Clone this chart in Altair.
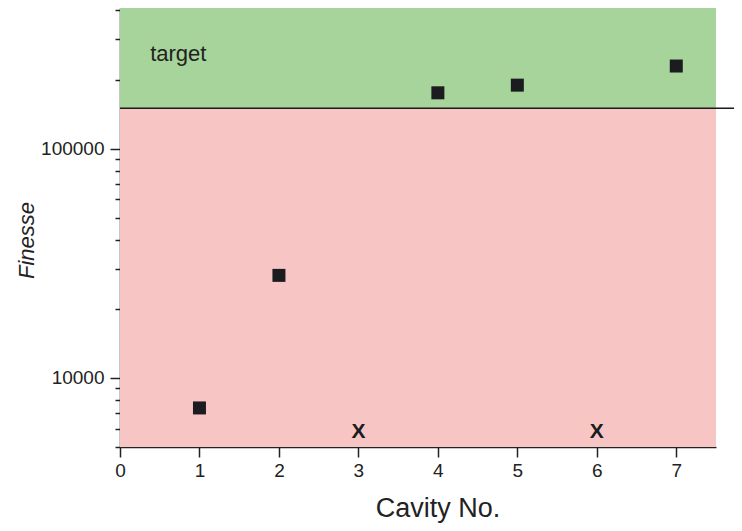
import altair as alt
import pandas as pd

# ---- data ----
cavity_no = [1, 2, 4, 5, 7]
finesse = [7400, 28000, 175000, 189000, 229000]
failed_cavity_no = [3, 6]
failed_marker_finesse = [5800, 5800]
target_finesse = 150000
y_domain = [5000, 410000]
x_domain = [0, 7.5]
y_tick_values = [5000, 6000, 7000, 8000, 9000,
                 10000, 20000, 30000, 40000, 50000, 60000, 70000, 80000, 90000,
                 100000, 200000, 300000, 400000]
y_label_values = [10000, 100000]
x_tick_values = [0, 0.5, 1, 1.5, 2, 2.5, 3, 3.5, 4, 4.5, 5, 5.5, 6, 6.5, 7, 7.5]
band_names = ["below", "target"]
band_colors = ["#f8c5c5", "#a6d49b"]
annotation_text = ["target"]
annotation_x = [0.38]
annotation_y = [240000]

FONT = "Liberation Sans"
INK = "#222222"

bands = pd.DataFrame({
    "band": band_names,
    "lo": [y_domain[0], target_finesse],
    "hi": [target_finesse, y_domain[1]],
    "x0": [x_domain[0]] * 2,
    "x1": [x_domain[1]] * 2,
})
points = pd.DataFrame({"cavity": cavity_no, "finesse": finesse})
failed = pd.DataFrame({"cavity": failed_cavity_no, "finesse": failed_marker_finesse})
notes = pd.DataFrame({"text": annotation_text, "x": annotation_x, "y": annotation_y})

xscale = alt.Scale(domain=x_domain, nice=False, zero=False)
yscale = alt.Scale(type="log", domain=y_domain, nice=False)

major_y = " || ".join(f"datum.value == {v}" for v in y_label_values)

x_axis = alt.Axis(
    values=x_tick_values,
    labelExpr="datum.value % 1 == 0 ? datum.label : ''",
    format="d",
    tickSize={"condition": {"test": "datum.value % 1 == 0", "value": 10}, "value": 5},
    tickWidth=1.5, tickColor=INK, domainColor=INK, domainWidth=1.5,
    labelFont=FONT, labelFontSize=19, labelColor=INK, labelPadding=4,
    labelFlush=False, labelOverlap=False,
    grid=False,
    title="Cavity No.", titleFont=FONT, titleFontSize=27, titleFontWeight="normal",
    titleColor=INK, titleX=317.5, titleY=69, titleBaseline="alphabetic",
    titleAlign="center",
)
y_axis = alt.Axis(
    values=y_tick_values,
    labelExpr=f"({major_y}) ? datum.label : ''",
    format="d",
    tickSize={"condition": {"test": major_y, "value": 10}, "value": 5},
    tickWidth=1.5, tickColor=INK, domainColor=INK, domainWidth=1.5,
    labelFont=FONT, labelFontSize=19, labelColor=INK, labelPadding=6,
    labelFlush=False, labelOverlap=False,
    grid=False,
    title="Finesse", titleFont=FONT, titleFontSize=22, titleFontWeight="normal",
    titleFontStyle="italic", titleColor=INK, titleX=-87, titleY=232,
    titleBaseline="alphabetic", titleAlign="center", titleAngle=270,
)

band_layer = alt.Chart(bands).mark_rect(stroke=None).encode(
    x=alt.X("x0:Q", scale=xscale, axis=x_axis),
    x2="x1:Q",
    y=alt.Y("lo:Q", scale=yscale, axis=y_axis),
    y2="hi:Q",
    color=alt.Color("band:N", scale=alt.Scale(domain=band_names, range=band_colors), legend=None),
)

threshold = alt.Chart(pd.DataFrame({"t": [target_finesse]})).mark_rule(
    clip=False, color="#1a1a1a", strokeWidth=1.5
).encode(
    y=alt.Y("t:Q", scale=yscale),
    x=alt.value(0),
    x2=alt.value(622),
)

square_layer = alt.Chart(points).mark_square(
    size=169, color="#1b1b20", opacity=1, filled=True
).encode(
    x=alt.X("cavity:Q", scale=xscale),
    y=alt.Y("finesse:Q", scale=yscale),
)

x_layer = alt.Chart(failed).mark_text(
    text="X", font=FONT, fontSize=21, fontWeight="bold", color="#1b1b20",
    baseline="middle", align="center"
).encode(
    x=alt.X("cavity:Q", scale=xscale),
    y=alt.Y("finesse:Q", scale=yscale),
)

note_layer = alt.Chart(notes).mark_text(
    font=FONT, fontSize=22, color=INK, align="left", baseline="alphabetic"
).encode(
    x=alt.X("x:Q", scale=xscale),
    y=alt.Y("y:Q", scale=yscale),
    text="text:N",
)

chart = alt.layer(band_layer, threshold, square_layer, x_layer, note_layer).properties(
    width=596,
    height=439,
    padding={"left": 112, "top": 0, "right": 18, "bottom": 76},
    autosize=alt.AutoSizeParams(type="none"),
    background="white",
).configure_view(stroke=None)

chart.save("out.html", embed_options={"renderer": "svg", "actions": False})
